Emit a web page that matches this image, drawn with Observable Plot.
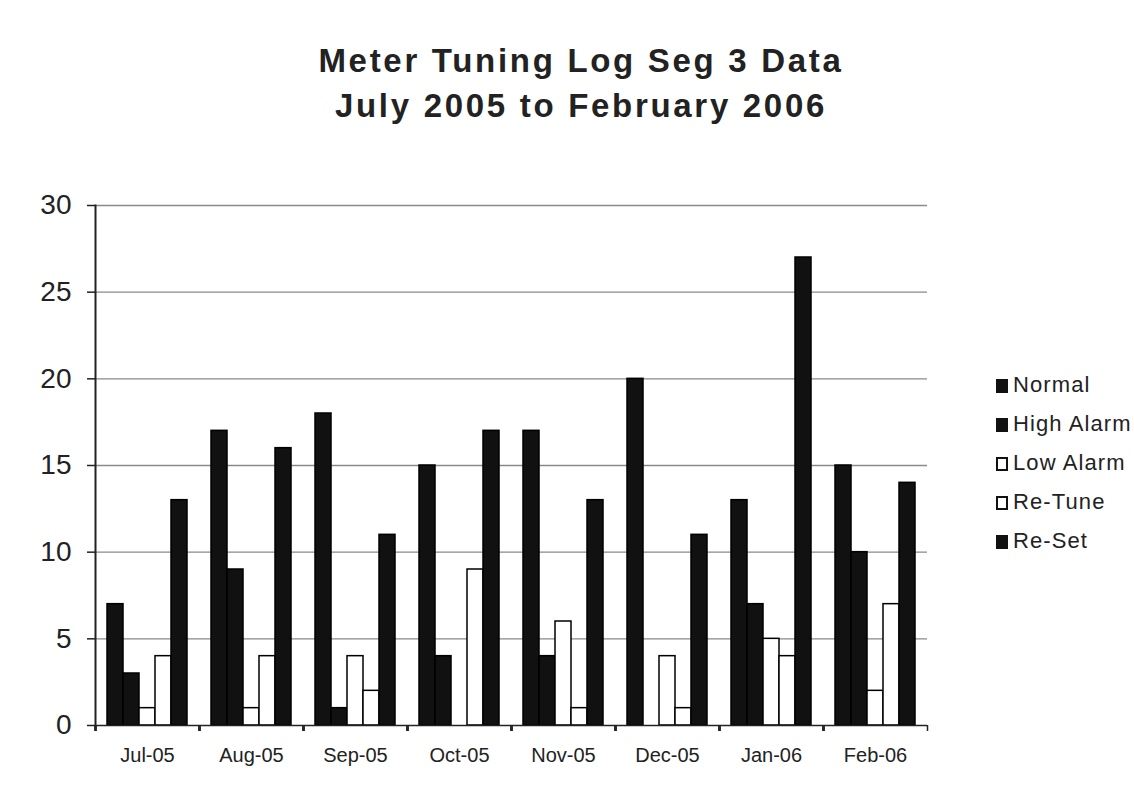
<!DOCTYPE html>
<html>
<head>
<meta charset="utf-8">
<script src="https://cdn.jsdelivr.net/npm/d3@7"></script>
<script src="https://cdn.jsdelivr.net/npm/@observablehq/plot@0.6"></script>
<style>
  html, body { margin: 0; padding: 0; background: #fff; }
  body { width: 1134px; height: 791px; position: relative; overflow: hidden; font-family: "Liberation Sans", Arial, sans-serif; color: #222; }
  #title { position: absolute; left: 14px; top: 38px; width: 1134px; text-align: center; font-weight: bold; font-size: 33px; line-height: 45px; letter-spacing: 2.7px; color: #222; }
  #chart { position: absolute; left: 0; top: 150px; }
  #legend { position: absolute; left: 996px; top: 374px; font-size: 22px; letter-spacing: 1.1px; color: #222; }
  .item { height: 39px; line-height: 22px; display: flex; align-items: flex-start; }
  .sw { width: 12px; height: 14px; box-sizing: border-box; border: 2px solid #111; margin-right: 5px; margin-top: 5px; }
</style>
</head>
<body>
<div id="title">Meter Tuning Log Seg 3 Data<br>July 2005 to February 2006</div>
<div id="chart"></div>
<div id="legend"></div>
<script>
const months = ["Jul-05","Aug-05","Sep-05","Oct-05","Nov-05","Dec-05","Jan-06","Feb-06"];
const series = ["Normal","High Alarm","Low Alarm","Re-Tune","Re-Set"];
const normal  = [7, 17, 18, 15, 17, 20, 13, 15];
const high    = [3,  9,  1,  4,  4,  0,  7, 10];
const low     = [1,  1,  4,  0,  6,  4,  5,  2];
const retune  = [4,  4,  2,  9,  1,  1,  4,  7];
const reset   = [13, 16, 11, 17, 13, 11, 27, 14];
const yTicks  = [0, 5, 10, 15, 20, 25, 30];
const fills   = ["#111","#111","#fff","#fff","#111"];

const values = [normal, high, low, retune, reset];
const data = months.flatMap((m, i) => series.map((s, j) => ({month: m, series: s, value: values[j][i]})));

const chart = Plot.plot({
  width: 1134,
  height: 641,
  marginLeft: 95,
  marginRight: 207,
  marginTop: 55,
  marginBottom: 66,
  style: {fontFamily: "'Liberation Sans', Arial, sans-serif", color: "#222", background: "white"},
  fx: {domain: months, padding: 0, label: null},
  x: {domain: series, paddingInner: 0, paddingOuter: 0.56, axis: null},
  y: {domain: [0, 30], label: null},
  color: {domain: series, range: fills},
  marks: [
    Plot.gridY(yTicks.filter(d => d > 0), {stroke: "#8a8a8a", strokeOpacity: 1, strokeWidth: 1.3}),
    Plot.barY(data, {fx: "month", x: "series", y: "value", fill: "series", stroke: "#000", strokeWidth: 1.5}),
    Plot.ruleY([0], {stroke: "#222", strokeWidth: 1.5}),
    Plot.frame({anchor: "left", facetAnchor: "left", stroke: "#222", strokeWidth: 2}),
    Plot.axisY(yTicks, {tickSize: 8, tickPadding: 16, fontSize: 28, label: null, strokeWidth: 1.5}),
    Plot.axisFx({anchor: "bottom", tickSize: 0, tickPadding: 22, fontSize: 20, label: null}),
    Plot.axisFx(months, {anchor: "bottom", tickSize: 6, tickFormat: () => "", dx: -52, label: null, strokeWidth: 1.5}),
    Plot.axisFx([months[months.length - 1]], {anchor: "bottom", tickSize: 6, tickFormat: () => "", dx: 52, label: null, strokeWidth: 1.5})
  ]
});
document.getElementById("chart").appendChild(chart);

const legend = document.getElementById("legend");
series.forEach((s, j) => {
  const item = document.createElement("div");
  item.className = "item";
  const sw = document.createElement("div");
  sw.className = "sw";
  sw.style.background = fills[j];
  const label = document.createElement("span");
  label.textContent = s;
  item.appendChild(sw);
  item.appendChild(label);
  legend.appendChild(item);
});
</script>
</body>
</html>
